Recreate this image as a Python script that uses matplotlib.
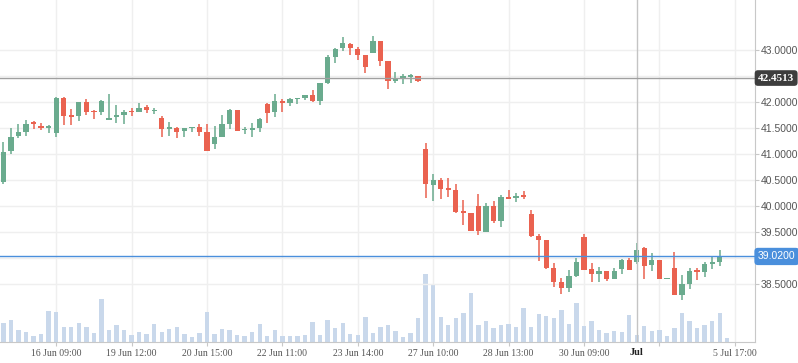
import numpy as np
import matplotlib
matplotlib.use("Agg")
import matplotlib.pyplot as plt
import matplotlib.transforms as mtransforms

# ---- candle data (one bar per period) ----
opens = [40.46, 41.04, 41.34, 41.42, 41.60, 41.53, 41.50, 41.40, 42.07, 41.72,
         41.73, 41.99, 41.81, 41.79, 41.65, 41.71, 41.75, 41.80, 41.79, 41.89,
         41.82, 41.68, 41.48, 41.49, 41.44, 41.49, 41.51, 41.41, 41.19, 41.32,
         41.57, 41.84, 41.45, 41.45, 41.50, 41.95, 41.79, 42.01, 41.98, 42.04,
         42.07, 42.125, 42.01, 42.36, 42.86, 43.02, 43.11, 43.01, 42.89, 42.94,
         43.16, 42.77, 42.40, 42.44, 42.48, 42.49, 41.09, 40.39, 40.49, 40.32,
         40.30, 39.87, 39.86, 39.99, 39.50, 39.99, 39.71, 40.145, 40.14, 40.18,
         39.84, 39.41, 39.34, 38.80, 38.53, 38.42, 38.645, 39.39, 38.78, 38.69,
         38.74, 38.59, 38.78, 38.95, 38.91, 39.18, 38.86, 38.95, 38.58, 38.80,
         38.27, 38.50, 38.75, 38.73, 38.88, 38.915]
highs = [41.22, 41.49, 41.57, 41.64, 41.63, 41.59, 41.55, 42.09, 42.09, 41.86,
         42.00, 42.05, 41.84, 42.03, 42.15, 41.93, 41.84, 41.87, 41.97, 41.93,
         41.88, 41.73, 41.60, 41.51, 41.49, 41.50, 41.56, 41.57, 41.53, 41.74,
         41.86, 41.84, 41.51, 41.58, 41.68, 41.98, 42.14, 42.05, 42.06, 42.07,
         42.125, 42.22, 42.36, 42.89, 43.03, 43.24, 43.12, 43.04, 42.89, 43.26,
         43.16, 42.78, 42.57, 42.53, 42.53, 42.49, 41.20, 40.61, 40.53, 40.53,
         40.41, 40.11, 39.86, 40.22, 40.04, 40.08, 40.20, 40.30, 40.25, 40.28,
         39.91, 39.45, 39.34, 38.89, 38.61, 38.76, 38.99, 39.45, 38.89, 38.82,
         38.74, 38.79, 38.97, 38.99, 39.28, 39.20, 39.09, 38.96, 38.58, 39.11,
         38.66, 38.80, 38.79, 38.92, 39.03, 39.14]
lows = [40.41, 41.00, 41.30, 41.34, 41.47, 41.46, 41.40, 41.32, 41.54, 41.54,
        41.63, 41.75, 41.67, 41.75, 41.64, 41.58, 41.56, 41.73, 41.79, 41.77,
        41.76, 41.32, 41.34, 41.30, 41.32, 41.42, 41.34, 41.04, 41.09, 41.32,
        41.48, 41.44, 41.37, 41.32, 41.41, 41.59, 41.71, 41.79, 41.91, 41.96,
        42.035, 41.99, 41.94, 42.34, 42.75, 42.98, 42.90, 42.80, 42.555, 42.94,
        42.69, 42.25, 42.36, 42.34, 42.36, 42.375, 40.15, 40.09, 40.13, 40.17,
        39.86, 39.63, 39.51, 39.44, 39.50, 39.67, 39.59, 40.12, 40.07, 40.125,
        39.40, 38.94, 38.78, 38.43, 38.29, 38.34, 38.63, 38.76, 38.52, 38.52,
        38.54, 38.59, 38.69, 38.76, 38.88, 38.59, 38.75, 38.58, 38.58, 38.27,
        38.18, 38.39, 38.57, 38.63, 38.78, 38.84]
closes = [41.03, 41.32, 41.41, 41.57, 41.56, 41.50, 41.51, 42.07, 41.73, 41.71,
          41.99, 41.80, 41.79, 42.01, 41.68, 41.75, 41.80, 41.79, 41.88, 41.83,
          41.83, 41.48, 41.49, 41.42, 41.49, 41.50, 41.42, 41.04, 41.32, 41.57,
          41.84, 41.44, 41.46, 41.49, 41.66, 41.77, 42.01, 41.98, 42.04, 42.055,
          42.125, 42.01, 42.36, 42.86, 43.01, 43.125, 43.02, 42.90, 42.67, 43.16,
          42.77, 42.40, 42.44, 42.49, 42.49, 42.40, 40.41, 40.49, 40.32, 40.305,
          39.875, 39.86, 39.51, 39.51, 39.99, 39.70, 40.16, 40.13, 40.18, 40.17,
          39.41, 39.34, 38.80, 38.53, 38.42, 38.645, 38.91, 38.76, 38.69, 38.74,
          38.59, 38.75, 38.95, 38.76, 39.14, 38.84, 38.95, 38.59, 38.585, 38.27,
          38.49, 38.74, 38.73, 38.88, 38.92, 39.02]
volume = [56, 67, 37, 31, 19, 25, 94, 91, 46, 46, 58, 46, 28, 130, 37, 52, 37, 22,
          31, 25, 55, 31, 40, 46, 25, 16, 28, 91, 25, 40, 37, 22, 19, 31, 55, 19,
          37, 19, 19, 19, 22, 61, 22, 67, 43, 58, 25, 22, 76, 28, 46, 52, 34,
          15, 27, 72, 204, 171, 75, 51, 72, 87, 147, 51, 63, 42, 51, 54, 45, 102,
          45, 84, 78, 72, 96, 54, 117, 48, 63, 36, 27, 33, 30, 81, 21, 48, 33, 36,
          18, 42, 87, 63, 42, 51, 63, 87, 12]

tick_pos = [7, 17, 27, 37, 47, 57, 67, 77, 87, 97]
tick_labels = ["16 Jun 09:00", "19 Jun 12:00", "20 Jun 15:00", "22 Jun 11:00",
               "23 Jun 14:00", "27 Jun 10:00", "28 Jun 13:00", "30 Jun 09:00",
               "", "5 Jul 17:00"]
price_ticks = [38.5, 39.0, 39.5, 40.0, 40.5, 41.0, 41.5, 42.0, 42.5, 43.0]
cross_idx = 84
cross_label = "Jul"
cross_price = 42.4513
last_price = 39.02

GREEN = "#6aab8e"
RED = "#ea6250"
GRID = "#efefef"
AXIS = "#c8c8c8"

fig = plt.figure(figsize=(7.98, 3.63), dpi=100)
axv = fig.add_axes([0, 21 / 363, 755 / 798, 342 / 363])

# volume underneath
vidx = np.arange(len(volume))
axv.bar(vidx, volume, width=0.58, color="#c9d8eb", zorder=2)
axv.set_ylim(0, 1026)
axv.set_xlim(-0.45, 99.68)
axv.set_yticks([])
for s in ["top", "left", "right"]:
    axv.spines[s].set_visible(False)
axv.spines["bottom"].set_color(AXIS)
axv.set_xticks(tick_pos)
axv.set_xticklabels(tick_labels)
axv.tick_params(axis="x", length=3, color=AXIS, labelsize=7, labelcolor="#555555", pad=2)
for lbl in axv.get_xticklabels():
    lbl.set_fontfamily("Liberation Serif")
axv.grid(axis="x", color=GRID, lw=1, zorder=0)
axv.set_axisbelow(True)

# price candles on top
ax = axv.twinx()
ax.set_ylim(37.375, 43.952)
ax.set_yticks(price_ticks)
# labels under the price boxes are not shown
hidden = [round(cross_price * 2) / 2, round(last_price * 2) / 2]
ax.set_yticklabels(["" if p in hidden else "%.4f" % p for p in price_ticks])
ax.tick_params(axis="y", length=3, color=AXIS, labelsize=7.5, labelcolor="#555555", pad=1)
for lbl in ax.get_yticklabels():
    lbl.set_fontfamily("Liberation Sans")
for s in ["top", "left", "bottom"]:
    ax.spines[s].set_visible(False)
ax.spines["right"].set_color(AXIS)
ax.grid(axis="y", color=GRID, lw=1, zorder=0)

idx = np.arange(len(opens))
o = np.array(opens); h = np.array(highs); l = np.array(lows); c = np.array(closes)
colors = np.where(c >= o, GREEN, RED)
ax.vlines(idx, l, h, colors=colors, lw=1.1, zorder=3)
body = np.maximum(np.abs(c - o), 0.025)
ax.bar(idx, body, bottom=np.minimum(o, c), width=0.7, color=colors, zorder=4)

# crosshair + price lines
ax.axvline(cross_idx, color="#c4c4c4", lw=1, zorder=5)
ax.axhline(cross_price, color="#a0a0a0", lw=1, zorder=5)
ax.axhline(last_price, color="#4a8fdc", lw=1, zorder=5)

tr = mtransforms.blended_transform_factory(ax.transAxes, ax.transData)
ax.text(1.004, cross_price, "%.4f" % cross_price, transform=tr, ha="left", va="center",
        color="white", fontsize=8, fontweight="bold", family="Liberation Serif",
        bbox=dict(boxstyle="round,pad=0.3", fc="#3d3d3d", ec="none"), clip_on=False, zorder=10)
ax.text(1.004, last_price, "%.4f" % last_price, transform=tr, ha="left", va="center",
        color="white", fontsize=7.5, family="Liberation Sans",
        bbox=dict(boxstyle="round,pad=0.35", fc="#4a8fdc", ec="none"), clip_on=False, zorder=10)
trx = mtransforms.blended_transform_factory(ax.transData, ax.transAxes)
ax.text(cross_idx, -0.03, cross_label, transform=trx, ha="center", va="center",
        color="#222222", fontsize=7.5, fontweight="bold", family="Liberation Serif",
        clip_on=False, zorder=10)

fig.savefig("out.png", dpi=100)
